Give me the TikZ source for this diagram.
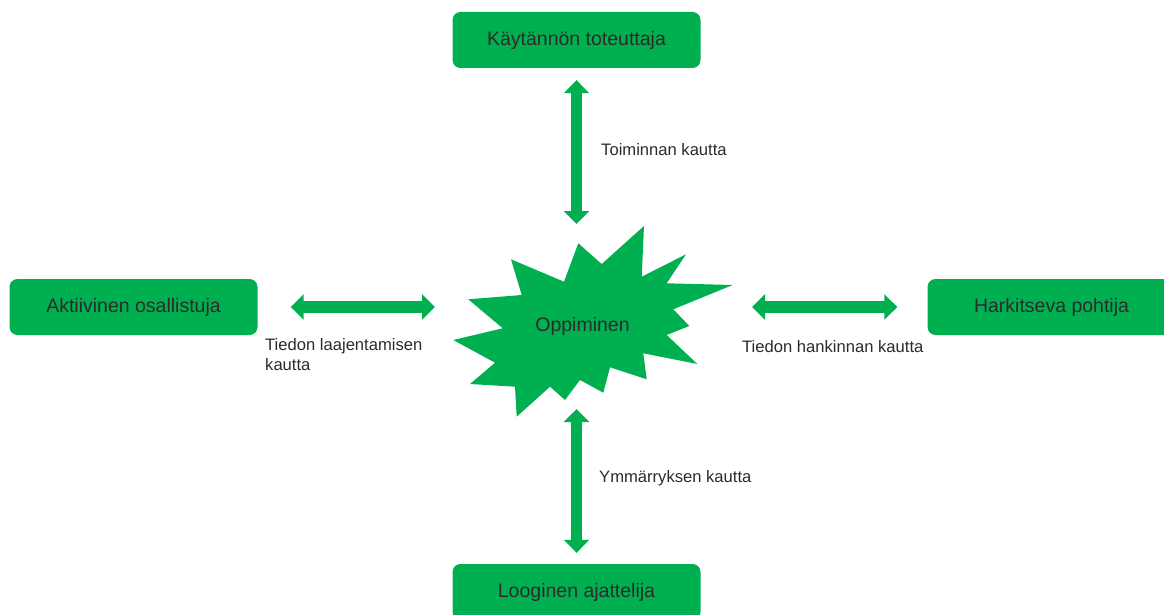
\documentclass[tikz,border=0pt]{standalone}
\usepackage{fontspec}
\setmainfont{Liberation Sans}
\usetikzlibrary{arrows.meta}
\definecolor{grn}{HTML}{00B050}
\definecolor{txt}{HTML}{2B2B2B}
\tikzset{
  box/.style={fill=grn, draw=none, rounded corners=8pt, minimum width=248pt, minimum height=56pt, inner sep=0pt, text=txt, font=\fontsize{19.5}{23}\selectfont},
  lbl/.style={text=txt, font=\fontsize{16.6}{20}\selectfont, inner sep=0pt, align=left},
  conn/.style={grn, line width=11.5pt, {Triangle[width=25pt,length=13pt]}-{Triangle[width=25pt,length=13pt]}}
}
\begin{document}
\begin{tikzpicture}[x=1pt,y=-1pt]
\useasboundingbox (0,0) rectangle (1164,615);
\node[box] (top) at (576.5,40) {Käytännön toteuttaja};
\node[box] (left) at (133.5,307) {Aktiivinen osallistuja};
\node[box] (right) at (1051.5,307) {Harkitseva pohtija};
\node[box] (bot) at (576.5,592) {Looginen ajattelija};
\fill[grn] (644,226) -- (641.7,276.7) -- (686,254.3) -- (666.7,283.3) -- (732.7,285)
  -- (673.3,309.3) -- (689.3,326) -- (666.7,335) -- (697.3,364) -- (643.3,353.3)
  -- (646.7,379.3) -- (610,367.3) -- (603.3,392.7) -- (580,380) -- (565,400)
  -- (550,386.7) -- (516.7,416.7) -- (515,386.7) -- (470,384) -- (495,362.7)
  -- (453.3,340) -- (502.7,328.3) -- (468.3,299.3) -- (521.7,295) -- (511,259.3)
  -- (564,281.7) -- (578.3,243.3) -- (601.7,264) -- cycle;
\node[text=txt, font=\fontsize{19.5}{23}\selectfont, inner sep=0pt] (opp) at (582.5,326) {Oppiminen};
\coordinate (star) at (576.5,307);
\draw[conn, shorten <=12pt, shorten >=83pt] (top.south) -- (star);
\draw[conn, shorten <=11pt, shorten >=102pt] (bot.north) -- (star);
\draw[conn, shorten <=33pt, shorten >=141.5pt] (left.east) -- (star);
\draw[conn, shorten <=30pt, shorten >=175.5pt] (right.west) -- (star);
\node[lbl, anchor=west] (l1) at (601,150) {Toiminnan kautta};
\node[lbl, anchor=west] (l2) at (599,478) {Ymmärryksen kautta};
\node[lbl, anchor=west] (l3) at (742,347) {Tiedon hankinnan kautta};
\node[lbl, anchor=north west] (l4) at (265,338) {Tiedon laajentamisen\\kautta};
\end{tikzpicture}
\end{document}
